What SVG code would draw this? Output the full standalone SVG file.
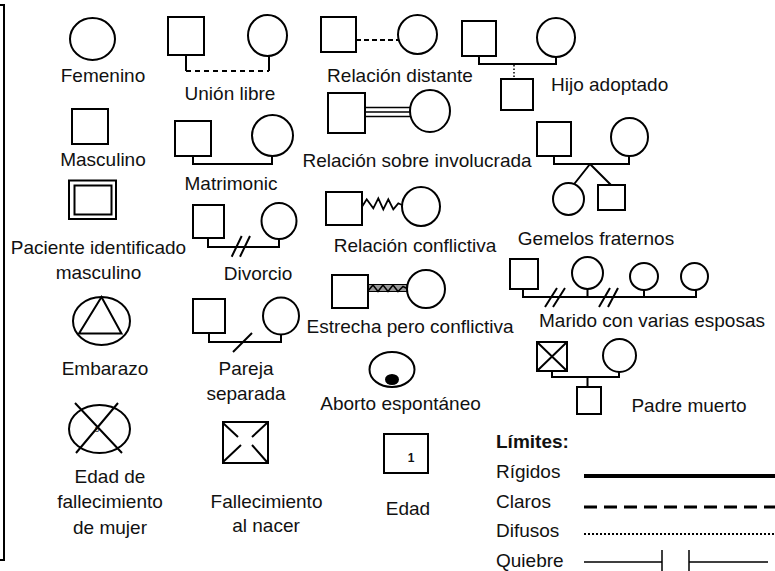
<svg xmlns="http://www.w3.org/2000/svg" width="775" height="571" viewBox="0 0 775 571">
<style>
.s{fill:#fff;stroke:#000;stroke-width:2}
.l{fill:none;stroke:#000;stroke-width:2}
.t{font-family:"Liberation Sans",Arial,sans-serif;font-size:19px;fill:#111;text-anchor:middle}
.ts{font-family:"Liberation Sans",Arial,sans-serif;font-size:19px;fill:#111}
</style>
<rect width="775" height="571" fill="#fff"/>
<path class="l" d="M0,5 H4 V560 H0"/>
<g id="connectors">
<path class="l" d="M186,55 V71"/><path class="l" d="M269,56 V71"/>
<path class="l" d="M186,71 H269" stroke-dasharray="5,4"/>
<path class="l" d="M193,156 V164 H272 V156"/>
<path class="l" d="M208,238 V247 H279 V239"/>
<path class="l" d="M231.7,256.7 L241.7,236 M240,256.7 L250,236"/>
<path class="l" d="M209,333 V342 H281 V334"/>
<path class="l" d="M233,352 L252,333"/>
<path class="l" d="M356,40 H398" stroke-dasharray="5,3"/>
<path fill="none" stroke="#000" stroke-width="1.5" d="M365,107.5 H410 M365,112 H410 M365,116.5 H410"/>
<path fill="none" stroke="#000" stroke-width="1.8" d="M362,206.7 L366.7,199.3 L373.3,208.3 L378.3,198.3 L383.3,209.3 L388.3,199.3 L393.3,209.3 L398.3,203.3 L402,205"/>
<rect x="368" y="284.5" width="39" height="7" fill="#999" stroke="#000" stroke-width="1"/>
<path fill="none" stroke="#000" stroke-width="1.5" d="M368,291 L373,285 L378,291.5 L383,285 L388,291.5 L393,285 L398,291.5 L403,286.5 L407,288.5"/>
<path class="l" d="M479,56 V64 H556 V57"/>
<path fill="none" stroke="#000" stroke-width="1.5" stroke-dasharray="1.5,2" d="M514,65 V77"/>
<path class="l" d="M554,156 V164 H629 V156"/>
<path class="l" d="M590,164 L573,185.5 M590,164 L611,185"/>
<path class="l" d="M523,289 V297 H696 V290 M587.5,289 V297 M644,290 V297"/>
<path class="l" d="M545,307 L557,288 M553,307 L565,288 M599,307 L610,288 M608,307 L618,288"/>
<path class="l" d="M552,371 V377 H619 V372 M587.5,377 V387"/>
</g>
<g id="femenino"><ellipse class="s" cx="92.5" cy="39" rx="22.5" ry="21"/><text class="t" x="103" y="82">Femenino</text></g>
<g id="masculino"><rect class="s" x="72" y="109" width="36" height="35"/><text class="t" x="103" y="166">Masculino</text></g>
<g id="paciente"><rect class="s" x="69" y="180.5" width="47" height="38.5"/><rect class="s" x="74.5" y="185.5" width="37" height="29" stroke-width="1.8"/><text class="t" x="98.5" y="254">Paciente identificado</text><text class="t" x="98.5" y="279">masculino</text></g>
<g id="embarazo"><ellipse class="s" cx="101.5" cy="321" rx="28.5" ry="24"/><path class="l" d="M101.5,297 L79,333.5 L121.5,333.5 Z"/><text class="t" x="105" y="375">Embarazo</text></g>
<g id="edad-fallecimiento"><ellipse class="s" cx="99.5" cy="429" rx="30.5" ry="24"/><path class="l" d="M75,403 L122,453 M118,403 L76,453"/><text x="97" y="432" font-family="Liberation Sans,Arial,sans-serif" font-size="8" text-anchor="middle" fill="#111">5</text><text class="t" x="110" y="483">Edad de</text><text class="t" x="110" y="508">fallecimiento</text><text class="t" x="110" y="534">de mujer</text></g>
<g id="union-libre"><rect class="s" x="168" y="17" width="36" height="38"/><ellipse class="s" cx="267.5" cy="35.5" rx="19.5" ry="20.5"/><text class="t" x="230" y="100">Unión libre</text></g>
<g id="matrimonio"><rect class="s" x="175" y="121" width="36" height="35"/><ellipse class="s" cx="272.5" cy="135.5" rx="20.5" ry="20.5"/><text class="t" x="231" y="190">Matrimonic</text></g>
<g id="divorcio"><rect class="s" x="193" y="205" width="31" height="33"/><ellipse class="s" cx="279" cy="221" rx="17.5" ry="18"/><text class="t" x="258" y="280">Divorcio</text></g>
<g id="pareja-separada"><rect class="s" x="193" y="299" width="32" height="34"/><ellipse class="s" cx="281" cy="316" rx="18" ry="18.5"/><text class="t" x="246" y="375">Pareja</text><text class="t" x="246" y="400">separada</text></g>
<g id="fallecimiento-nacer"><rect class="s" x="223" y="422" width="45" height="41"/><path class="l" d="M223,423 L238,437 M267,423 L252,437 M223,462 L241,445 M267,462 L252,445"/><text class="t" x="266.5" y="508">Fallecimiento</text><text class="t" x="266" y="532">al nacer</text></g>
<g id="relacion-distante"><rect class="s" x="321" y="17" width="35" height="35"/><ellipse class="s" cx="417.5" cy="34.5" rx="19.5" ry="19.5"/><text class="t" x="400" y="82">Relación distante</text></g>
<g id="sobre-involucrada"><rect class="s" x="328" y="93" width="37" height="40"/><ellipse class="s" cx="430" cy="111" rx="20" ry="21"/><text class="t" x="417" y="167">Relación sobre involucrada</text></g>
<g id="conflictiva"><rect class="s" x="326" y="192" width="36" height="33"/><ellipse class="s" cx="421" cy="206.5" rx="19" ry="19.5"/><text class="t" x="415" y="252">Relación conflictiva</text></g>
<g id="estrecha-conflictiva"><rect class="s" x="332" y="275" width="36" height="33"/><ellipse class="s" cx="426" cy="289" rx="19" ry="19"/><text class="t" x="410" y="333">Estrecha pero conflictiva</text></g>
<g id="aborto"><ellipse class="s" cx="392" cy="369.5" rx="22.5" ry="17.5"/><ellipse cx="392" cy="379.5" rx="7" ry="5.5" fill="#000"/><text class="t" x="400.5" y="410">Aborto espontáneo</text></g>
<g id="edad"><rect class="s" x="384" y="434" width="44" height="39"/><text x="411" y="462" font-family="Liberation Sans,Arial,sans-serif" font-size="12" font-weight="bold" text-anchor="middle" fill="#111">1</text><text class="t" x="408" y="515">Edad</text></g>
<g id="hijo-adoptado"><rect class="s" x="462" y="21" width="34" height="35"/><ellipse class="s" cx="556" cy="37.5" rx="19" ry="19.5"/><rect class="s" x="501" y="79" width="32" height="31"/><text class="ts" x="551" y="91">Hijo adoptado</text></g>
<g id="gemelos"><rect class="s" x="537" y="122" width="34" height="34"/><ellipse class="s" cx="629.5" cy="137" rx="18.5" ry="19"/><ellipse class="s" cx="568.5" cy="199" rx="15.5" ry="16"/><rect class="s" x="598" y="185" width="27" height="25"/><text class="t" x="596" y="245">Gemelos fraternos</text></g>
<g id="varias-esposas"><rect class="s" x="510" y="259" width="28" height="30"/><ellipse class="s" cx="587.5" cy="273" rx="15.5" ry="16"/><ellipse class="s" cx="644" cy="276.5" rx="14" ry="13.5"/><ellipse class="s" cx="694.5" cy="276.5" rx="13.5" ry="13.5"/><text class="t" x="652" y="327">Marido con varias esposas</text></g>
<g id="padre-muerto"><rect class="s" x="537" y="342" width="30" height="29"/><path class="l" d="M537,342 L567,371 M567,342 L537,371"/><ellipse class="s" cx="619.5" cy="355.5" rx="16.5" ry="16.5"/><rect class="s" x="577" y="387" width="24" height="27"/><text class="t" x="689" y="412">Padre muerto</text></g>
<g id="limites">
<text class="ts" x="496" y="448" font-weight="bold">Límites:</text>
<text class="ts" x="496" y="478">Rígidos</text>
<text class="ts" x="496" y="508">Claros</text>
<text class="ts" x="496" y="537">Difusos</text>
<text class="ts" x="496" y="567">Quiebre</text>
<path fill="none" stroke="#000" stroke-width="4" d="M584,476 H775"/>
<path fill="none" stroke="#000" stroke-width="3" stroke-dasharray="13,7" d="M584,507 H775"/>
<path fill="none" stroke="#000" stroke-width="2.2" stroke-dasharray="2,2" d="M584,534 H775"/>
<path fill="none" stroke="#000" stroke-width="1.5" d="M584,562 H662 M662,550 V572 M689,550 V572 M689,562 H768"/>
</g>
</svg>
